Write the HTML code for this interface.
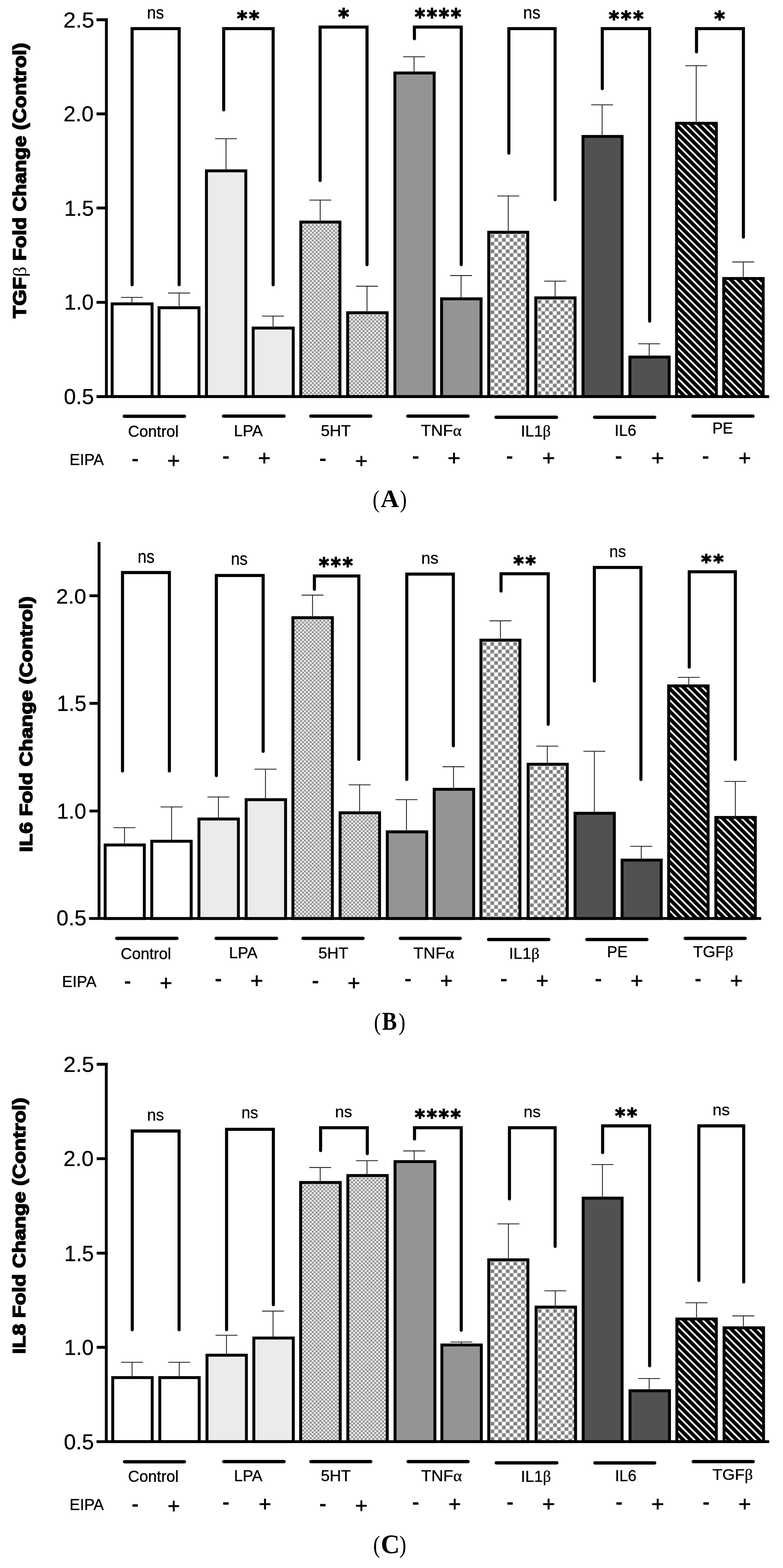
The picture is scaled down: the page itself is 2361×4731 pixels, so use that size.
<!DOCTYPE html>
<html><head><meta charset="utf-8"><title>Figure</title>
<style>html,body{margin:0;padding:0;background:#fff;} svg{display:block;}</style></head>
<body><svg width="2361" height="4731" viewBox="0 0 2361 4731">
<defs><pattern id='fine1' patternUnits='userSpaceOnUse' x='911.30' y='676.00' width='11.640' height='11.640'><rect width='11.640' height='11.640' fill='#c4c4c4'/><rect x='1.060' y='1.060' width='3.7' height='3.7' fill='#ffffff'/><rect x='6.880' y='6.880' width='3.7' height='3.7' fill='#ffffff'/><rect x='6.880' y='1.060' width='3.7' height='3.7' fill='#7a7a7a'/><rect x='1.060' y='6.880' width='3.7' height='3.7' fill='#7a7a7a'/></pattern><pattern id='fine2' patternUnits='userSpaceOnUse' x='1052.60' y='949.60' width='11.640' height='11.640'><rect width='11.640' height='11.640' fill='#c4c4c4'/><rect x='1.060' y='1.060' width='3.7' height='3.7' fill='#ffffff'/><rect x='6.880' y='6.880' width='3.7' height='3.7' fill='#ffffff'/><rect x='6.880' y='1.060' width='3.7' height='3.7' fill='#7a7a7a'/><rect x='1.060' y='6.880' width='3.7' height='3.7' fill='#7a7a7a'/></pattern><pattern id='coarse3' patternUnits='userSpaceOnUse' x='1479.10' y='706.55' width='23.000' height='23.000'><rect width='23.000' height='23.000' fill='#cccccc'/><rect x='0.900' y='0.900' width='9.7' height='9.7' fill='#7e7e7e'/><rect x='12.400' y='12.400' width='9.7' height='9.7' fill='#7e7e7e'/><rect x='12.400' y='0.900' width='9.7' height='9.7' fill='#ffffff'/><rect x='0.900' y='12.400' width='9.7' height='9.7' fill='#ffffff'/></pattern><pattern id='coarse4' patternUnits='userSpaceOnUse' x='1621.00' y='904.45' width='23.000' height='23.000'><rect width='23.000' height='23.000' fill='#cccccc'/><rect x='0.900' y='0.900' width='9.7' height='9.7' fill='#7e7e7e'/><rect x='12.400' y='12.400' width='9.7' height='9.7' fill='#7e7e7e'/><rect x='12.400' y='0.900' width='9.7' height='9.7' fill='#ffffff'/><rect x='0.900' y='12.400' width='9.7' height='9.7' fill='#ffffff'/></pattern><pattern id='hatch5' patternUnits='userSpaceOnUse' x='1175.813' y='0' width='16.05' height='16.05' patternTransform='rotate(-45)'><rect width='16.05' height='16.05' fill='#000'/><rect x='5.425' y='0' width='5.2' height='16.05' fill='#fff'/></pattern><pattern id='hatch6' patternUnits='userSpaceOnUse' x='945.296' y='0' width='16.05' height='16.05' patternTransform='rotate(-45)'><rect width='16.05' height='16.05' fill='#000'/><rect x='5.425' y='0' width='5.2' height='16.05' fill='#fff'/></pattern><pattern id='fine7' patternUnits='userSpaceOnUse' x='887.50' y='1869.70' width='11.640' height='11.640'><rect width='11.640' height='11.640' fill='#c4c4c4'/><rect x='1.060' y='1.060' width='3.7' height='3.7' fill='#ffffff'/><rect x='6.880' y='6.880' width='3.7' height='3.7' fill='#ffffff'/><rect x='6.880' y='1.060' width='3.7' height='3.7' fill='#7a7a7a'/><rect x='1.060' y='6.880' width='3.7' height='3.7' fill='#7a7a7a'/></pattern><pattern id='fine8' patternUnits='userSpaceOnUse' x='1029.80' y='2458.40' width='11.640' height='11.640'><rect width='11.640' height='11.640' fill='#c4c4c4'/><rect x='1.060' y='1.060' width='3.7' height='3.7' fill='#ffffff'/><rect x='6.880' y='6.880' width='3.7' height='3.7' fill='#ffffff'/><rect x='6.880' y='1.060' width='3.7' height='3.7' fill='#7a7a7a'/><rect x='1.060' y='6.880' width='3.7' height='3.7' fill='#7a7a7a'/></pattern><pattern id='coarse9' patternUnits='userSpaceOnUse' x='1455.60' y='1937.15' width='23.000' height='23.000'><rect width='23.000' height='23.000' fill='#cccccc'/><rect x='0.900' y='0.900' width='9.7' height='9.7' fill='#7e7e7e'/><rect x='12.400' y='12.400' width='9.7' height='9.7' fill='#7e7e7e'/><rect x='12.400' y='0.900' width='9.7' height='9.7' fill='#ffffff'/><rect x='0.900' y='12.400' width='9.7' height='9.7' fill='#ffffff'/></pattern><pattern id='coarse10' patternUnits='userSpaceOnUse' x='1597.90' y='2311.65' width='23.000' height='23.000'><rect width='23.000' height='23.000' fill='#cccccc'/><rect x='0.900' y='0.900' width='9.7' height='9.7' fill='#7e7e7e'/><rect x='12.400' y='12.400' width='9.7' height='9.7' fill='#7e7e7e'/><rect x='12.400' y='0.900' width='9.7' height='9.7' fill='#ffffff'/><rect x='0.900' y='12.400' width='9.7' height='9.7' fill='#ffffff'/></pattern><pattern id='hatch11' patternUnits='userSpaceOnUse' x='-41.330' y='0' width='16.05' height='16.05' patternTransform='rotate(-45)'><rect width='16.05' height='16.05' fill='#000'/><rect x='5.425' y='0' width='5.2' height='16.05' fill='#fff'/></pattern><pattern id='hatch12' patternUnits='userSpaceOnUse' x='-221.359' y='0' width='16.05' height='16.05' patternTransform='rotate(-45)'><rect width='16.05' height='16.05' fill='#000'/><rect x='5.425' y='0' width='5.2' height='16.05' fill='#fff'/></pattern><pattern id='fine13' patternUnits='userSpaceOnUse' x='910.80' y='3573.80' width='11.640' height='11.640'><rect width='11.640' height='11.640' fill='#c4c4c4'/><rect x='1.060' y='1.060' width='3.7' height='3.7' fill='#ffffff'/><rect x='6.880' y='6.880' width='3.7' height='3.7' fill='#ffffff'/><rect x='6.880' y='1.060' width='3.7' height='3.7' fill='#7a7a7a'/><rect x='1.060' y='6.880' width='3.7' height='3.7' fill='#7a7a7a'/></pattern><pattern id='fine14' patternUnits='userSpaceOnUse' x='1053.10' y='3552.80' width='11.640' height='11.640'><rect width='11.640' height='11.640' fill='#c4c4c4'/><rect x='1.060' y='1.060' width='3.7' height='3.7' fill='#ffffff'/><rect x='6.880' y='6.880' width='3.7' height='3.7' fill='#ffffff'/><rect x='6.880' y='1.060' width='3.7' height='3.7' fill='#7a7a7a'/><rect x='1.060' y='6.880' width='3.7' height='3.7' fill='#7a7a7a'/></pattern><pattern id='coarse15' patternUnits='userSpaceOnUse' x='1479.10' y='3806.85' width='23.000' height='23.000'><rect width='23.000' height='23.000' fill='#cccccc'/><rect x='0.900' y='0.900' width='9.7' height='9.7' fill='#7e7e7e'/><rect x='12.400' y='12.400' width='9.7' height='9.7' fill='#7e7e7e'/><rect x='12.400' y='0.900' width='9.7' height='9.7' fill='#ffffff'/><rect x='0.900' y='12.400' width='9.7' height='9.7' fill='#ffffff'/></pattern><pattern id='coarse16' patternUnits='userSpaceOnUse' x='1621.90' y='3949.55' width='23.000' height='23.000'><rect width='23.000' height='23.000' fill='#cccccc'/><rect x='0.900' y='0.900' width='9.7' height='9.7' fill='#7e7e7e'/><rect x='12.400' y='12.400' width='9.7' height='9.7' fill='#7e7e7e'/><rect x='12.400' y='0.900' width='9.7' height='9.7' fill='#ffffff'/><rect x='0.900' y='12.400' width='9.7' height='9.7' fill='#ffffff'/></pattern><pattern id='hatch17' patternUnits='userSpaceOnUse' x='-1374.509' y='0' width='16.05' height='16.05' patternTransform='rotate(-45)'><rect width='16.05' height='16.05' fill='#000'/><rect x='5.425' y='0' width='5.2' height='16.05' fill='#fff'/></pattern><pattern id='hatch18' patternUnits='userSpaceOnUse' x='-1292.697' y='0' width='16.05' height='16.05' patternTransform='rotate(-45)'><rect width='16.05' height='16.05' fill='#000'/><rect x='5.425' y='0' width='5.2' height='16.05' fill='#fff'/></pattern></defs>
<rect width="2361" height="4731" fill="#fff"/>
<g id='panelA'><rect x='338.2' y='916.8' width='120.3' height='279.8' fill='#ffffff' stroke='#000' stroke-width='8.8'/>
<rect x='479.6' y='928.5' width='120.4' height='268.1' fill='#ffffff' stroke='#000' stroke-width='8.8'/>
<rect x='622.5' y='515.5' width='118.7' height='681.1' fill='#ebebeb' stroke='#000' stroke-width='8.8'/>
<rect x='763.4' y='989.8' width='120.8' height='206.8' fill='#ebebeb' stroke='#000' stroke-width='8.8'/>
<rect x='907' y='670' width='118' height='526.6' fill='url(#fine1)' stroke='#000' stroke-width='8.8'/>
<rect x='1048.3' y='943.6' width='119' height='253' fill='url(#fine2)' stroke='#000' stroke-width='8.8'/>
<rect x='1190.7' y='220.2' width='118.5' height='976.4' fill='#949494' stroke='#000' stroke-width='8.8'/>
<rect x='1331.5' y='901.6' width='119' height='295' fill='#949494' stroke='#000' stroke-width='8.8'/>
<rect x='1473.7' y='700.8' width='117.6' height='495.8' fill='url(#coarse3)' stroke='#000' stroke-width='8.8'/>
<rect x='1615.6' y='898.7' width='118.4' height='297.9' fill='url(#coarse4)' stroke='#000' stroke-width='8.8'/>
<rect x='1757.9' y='411.7' width='118' height='784.9' fill='#515151' stroke='#000' stroke-width='8.8'/>
<rect x='1899.3' y='1077.3' width='118.5' height='119.3' fill='#515151' stroke='#000' stroke-width='8.8'/>
<rect x='2040' y='372' width='120' height='824.6' fill='url(#hatch5)' stroke='#000' stroke-width='8.8'/>
<rect x='2182.3' y='840.3' width='119' height='356.3' fill='url(#hatch6)' stroke='#000' stroke-width='8.8'/>
<path d='M397.75 916.8V897.2M364.75 897.2H430.75' stroke='#222' stroke-width='2.6' fill='none'/>
<path d='M540.1 928.5V884.1M507.1 884.1H573.1' stroke='#222' stroke-width='2.6' fill='none'/>
<path d='M681.5 515.5V418.5M648.5 418.5H714.5' stroke='#222' stroke-width='2.6' fill='none'/>
<path d='M823.3 989.8V953.7M790.3 953.7H856.3' stroke='#222' stroke-width='2.6' fill='none'/>
<path d='M965.5 670V603.7M932.5 603.7H998.5' stroke='#222' stroke-width='2.6' fill='none'/>
<path d='M1106.7 943.6V863.6M1073.7 863.6H1139.7' stroke='#222' stroke-width='2.6' fill='none'/>
<path d='M1248.5 220.2V171.2M1215.5 171.2H1281.5' stroke='#222' stroke-width='2.6' fill='none'/>
<path d='M1390.3 901.6V831.4M1357.3 831.4H1423.3' stroke='#222' stroke-width='2.6' fill='none'/>
<path d='M1532.5 700.8V591.3M1499.5 591.3H1565.5' stroke='#222' stroke-width='2.6' fill='none'/>
<path d='M1673.9 898.7V848.2M1640.9 848.2H1706.9' stroke='#222' stroke-width='2.6' fill='none'/>
<path d='M1815.7 411.7V316.3M1782.7 316.3H1848.7' stroke='#222' stroke-width='2.6' fill='none'/>
<path d='M1957.6 1077.3V1037.2M1924.6 1037.2H1990.6' stroke='#222' stroke-width='2.6' fill='none'/>
<path d='M2099.3 372V198.3M2066.3 198.3H2132.3' stroke='#222' stroke-width='2.6' fill='none'/>
<path d='M2241.1 840.3V790.4M2208.1 790.4H2274.1' stroke='#222' stroke-width='2.6' fill='none'/>
<path d='M320.8 55V1196.6' stroke='#000' stroke-width='8.6' fill='none'/>
<path d='M291 1196.6H2319.5' stroke='#000' stroke-width='8.6' fill='none'/>
<path d='M291 59.6H325.1' stroke='#000' stroke-width='8.6' fill='none'/>
<path d='M291 343.6H325.1' stroke='#000' stroke-width='8.6' fill='none'/>
<path d='M291 627.5H325.1' stroke='#000' stroke-width='8.6' fill='none'/>
<path d='M291 912.2H325.1' stroke='#000' stroke-width='8.6' fill='none'/>
<path d='M398.3 859.3V86.3H540.2V859.3' stroke='#000' stroke-width='9.3' fill='none' stroke-linecap='round' stroke-linejoin='miter'/>
<text transform='translate(443.3 55.68) scale(0.4833 0.5164)' font-family="'Liberation Sans', Arial, Helvetica, sans-serif" font-weight='normal' font-size='100' stroke='#000' stroke-width='1.0' stroke-linejoin='round'>ns</text>
<path d='M674.5 331.6V86.3H823.6V859.3' stroke='#000' stroke-width='9.3' fill='none' stroke-linecap='round' stroke-linejoin='miter'/>
<text transform='translate(714.4 76.85) scale(0.5929 0.6020)' font-family="'DejaVu Sans', sans-serif" font-weight='bold' font-size='100' stroke='#000' stroke-width='4' stroke-linejoin='round' letter-spacing='9'>**</text>
<path d='M965.2 544.8V81.7H1106.7V798.6' stroke='#000' stroke-width='9.3' fill='none' stroke-linecap='round' stroke-linejoin='miter'/>
<text transform='translate(1019.7 73.36) scale(0.6250 0.6600)' font-family="'DejaVu Sans', sans-serif" font-weight='bold' font-size='100' stroke='#000' stroke-width='4' stroke-linejoin='round' letter-spacing='9'>*</text>
<path d='M1249.6 117V81.7H1390.8V798.6' stroke='#000' stroke-width='9.3' fill='none' stroke-linecap='round' stroke-linejoin='miter'/>
<text transform='translate(1250.7 73.36) scale(0.5919 0.6600)' font-family="'DejaVu Sans', sans-serif" font-weight='bold' font-size='100' stroke='#000' stroke-width='4' stroke-linejoin='round' letter-spacing='9'>****</text>
<path d='M1534.4 462.2V86.3H1673.8V602.7' stroke='#000' stroke-width='9.3' fill='none' stroke-linecap='round' stroke-linejoin='miter'/>
<text transform='translate(1577.44 55.68) scale(0.4938 0.5164)' font-family="'Liberation Sans', Arial, Helvetica, sans-serif" font-weight='normal' font-size='100' stroke='#000' stroke-width='1.0' stroke-linejoin='round'>ns</text>
<path d='M1816.1 267.7V86.3H1958.8V969' stroke='#000' stroke-width='9.3' fill='none' stroke-linecap='round' stroke-linejoin='miter'/>
<text transform='translate(1835.6 77.53) scale(0.5989 0.6280)' font-family="'DejaVu Sans', sans-serif" font-weight='bold' font-size='100' stroke='#000' stroke-width='4' stroke-linejoin='round' letter-spacing='9'>***</text>
<path d='M2100.2 156.6V86.3H2241.6V715.6' stroke='#000' stroke-width='9.3' fill='none' stroke-linecap='round' stroke-linejoin='miter'/>
<text transform='translate(2153.7 77.53) scale(0.6154 0.6280)' font-family="'DejaVu Sans', sans-serif" font-weight='bold' font-size='100' stroke='#000' stroke-width='4' stroke-linejoin='round' letter-spacing='9'>*</text>
<path d='M374.7 1255.9H556.1' stroke='#000' stroke-width='10.0' stroke-linecap='round' fill='none'/>
<path d='M674 1255.6H856.4' stroke='#000' stroke-width='10.0' stroke-linecap='round' fill='none'/>
<path d='M937.1 1255.6H1117.9' stroke='#000' stroke-width='10.0' stroke-linecap='round' fill='none'/>
<path d='M1229.8 1255.6H1411.2' stroke='#000' stroke-width='10.0' stroke-linecap='round' fill='none'/>
<path d='M1495.8 1259H1677.9' stroke='#000' stroke-width='10.0' stroke-linecap='round' fill='none'/>
<path d='M1792.9 1259H1974' stroke='#000' stroke-width='10.0' stroke-linecap='round' fill='none'/>
<path d='M2089.7 1255.6H2270.4' stroke='#000' stroke-width='10.0' stroke-linecap='round' fill='none'/>
<text transform='translate(190.94 82.56) scale(0.6715 0.6437)' font-family="'Liberation Sans', Arial, Helvetica, sans-serif" font-weight='normal' font-size='100' stroke='#000' stroke-width='0.8' stroke-linejoin='round'>2.5</text>
<text transform='translate(191.43 365.85) scale(0.6542 0.6521)' font-family="'Liberation Sans', Arial, Helvetica, sans-serif" font-weight='normal' font-size='100' stroke='#000' stroke-width='0.8' stroke-linejoin='round'>2.0</text>
<text transform='translate(193.7 650.55) scale(0.6422 0.6514)' font-family="'Liberation Sans', Arial, Helvetica, sans-serif" font-weight='normal' font-size='100' stroke='#000' stroke-width='0.8' stroke-linejoin='round'>1.5</text>
<text transform='translate(193.74 933.56) scale(0.6372 0.6423)' font-family="'Liberation Sans', Arial, Helvetica, sans-serif" font-weight='normal' font-size='100' stroke='#000' stroke-width='0.8' stroke-linejoin='round'>1.0</text>
<text transform='translate(192.54 1218.85) scale(0.6523 0.6521)' font-family="'Liberation Sans', Arial, Helvetica, sans-serif" font-weight='normal' font-size='100' stroke='#000' stroke-width='0.8' stroke-linejoin='round'>0.5</text>
<text transform='translate(386.01 1317.52) scale(0.4731 0.4845)' font-family="'Liberation Sans', Arial, Helvetica, sans-serif" font-weight='normal' font-size='100' stroke='#000' stroke-width='1.4' stroke-linejoin='round'>Control</text>
<text transform='translate(705.16 1315.62) scale(0.4799 0.4845)' font-family="'Liberation Sans', Arial, Helvetica, sans-serif" font-weight='normal' font-size='100' stroke='#000' stroke-width='1.4' stroke-linejoin='round'>LPA</text>
<text transform='translate(967.57 1315.62) scale(0.4772 0.4831)' font-family="'Liberation Sans', Arial, Helvetica, sans-serif" font-weight='normal' font-size='100' stroke='#000' stroke-width='1.4' stroke-linejoin='round'>5HT</text>
<text transform='translate(1269.31 1315.42) scale(0.4967 0.4845)' font-family="'Liberation Sans', Arial, Helvetica, sans-serif" font-weight='normal' font-size='100' stroke='#000' stroke-width='1.4' stroke-linejoin='round'>TNF<tspan font-family="'Liberation Serif', 'Times New Roman', serif">α</tspan></text>
<text transform='translate(1570.52 1317.42) scale(0.4751 0.4789)' font-family="'Liberation Sans', Arial, Helvetica, sans-serif" font-weight='normal' font-size='100' stroke='#000' stroke-width='1.4' stroke-linejoin='round'>IL1<tspan font-family="'Liberation Serif', 'Times New Roman', serif">β</tspan></text>
<text transform='translate(1853.28 1315.42) scale(0.4690 0.4761)' font-family="'Liberation Sans', Arial, Helvetica, sans-serif" font-weight='normal' font-size='100' stroke='#000' stroke-width='1.4' stroke-linejoin='round'>IL6</text>
<text transform='translate(2147.97 1307.72) scale(0.4664 0.4817)' font-family="'Liberation Sans', Arial, Helvetica, sans-serif" font-weight='normal' font-size='100' stroke='#000' stroke-width='1.4' stroke-linejoin='round'>PE</text>
<text transform='translate(209.65 1403.42) scale(0.4690 0.4817)' font-family="'Liberation Sans', Arial, Helvetica, sans-serif" font-weight='normal' font-size='100' stroke='#000' stroke-width='1.4' stroke-linejoin='round'>EIPA</text>
<text transform='translate(396.46 1412.78) scale(0.6600 0.9250)' font-family="'Liberation Sans', Arial, Helvetica, sans-serif" font-weight='normal' font-size='100'>-</text>
<text transform='translate(670.1 1405.43) scale(0.6760 0.9250)' font-family="'Liberation Sans', Arial, Helvetica, sans-serif" font-weight='normal' font-size='100'>-</text>
<text transform='translate(962.3 1411.93) scale(0.6760 0.9250)' font-family="'Liberation Sans', Arial, Helvetica, sans-serif" font-weight='normal' font-size='100'>-</text>
<text transform='translate(1242.3 1405.43) scale(0.6760 0.9250)' font-family="'Liberation Sans', Arial, Helvetica, sans-serif" font-weight='normal' font-size='100'>-</text>
<text transform='translate(1525.91 1405.43) scale(0.6480 0.9250)' font-family="'Liberation Sans', Arial, Helvetica, sans-serif" font-weight='normal' font-size='100'>-</text>
<text transform='translate(1854.1 1405.43) scale(0.6760 0.9250)' font-family="'Liberation Sans', Arial, Helvetica, sans-serif" font-weight='normal' font-size='100'>-</text>
<text transform='translate(2116.6 1405.43) scale(0.6760 0.9250)' font-family="'Liberation Sans', Arial, Helvetica, sans-serif" font-weight='normal' font-size='100'>-</text>
<text transform='translate(504.38 1412.24) scale(0.6540 0.6549)' font-family="'Liberation Sans', Arial, Helvetica, sans-serif" font-weight='normal' font-size='100' stroke='#000' stroke-width='1.6' stroke-linejoin='round'>+</text>
<text transform='translate(778.08 1404.14) scale(0.6540 0.6549)' font-family="'Liberation Sans', Arial, Helvetica, sans-serif" font-weight='normal' font-size='100' stroke='#000' stroke-width='1.6' stroke-linejoin='round'>+</text>
<text transform='translate(1070.71 1410.86) scale(0.6480 0.6196)' font-family="'Liberation Sans', Arial, Helvetica, sans-serif" font-weight='normal' font-size='100' stroke='#000' stroke-width='1.6' stroke-linejoin='round'>+</text>
<text transform='translate(1349.53 1404.14) scale(0.6680 0.6549)' font-family="'Liberation Sans', Arial, Helvetica, sans-serif" font-weight='normal' font-size='100' stroke='#000' stroke-width='1.6' stroke-linejoin='round'>+</text>
<text transform='translate(1634.83 1404.14) scale(0.6680 0.6549)' font-family="'Liberation Sans', Arial, Helvetica, sans-serif" font-weight='normal' font-size='100' stroke='#000' stroke-width='1.6' stroke-linejoin='round'>+</text>
<text transform='translate(1963.83 1404.14) scale(0.6680 0.6549)' font-family="'Liberation Sans', Arial, Helvetica, sans-serif" font-weight='normal' font-size='100' stroke='#000' stroke-width='1.6' stroke-linejoin='round'>+</text>
<text transform='translate(2226.38 1404.14) scale(0.6540 0.6549)' font-family="'Liberation Sans', Arial, Helvetica, sans-serif" font-weight='normal' font-size='100' stroke='#000' stroke-width='1.6' stroke-linejoin='round'>+</text>
<text transform='translate(78.23 960.28) rotate(-90) scale(0.6230 0.5551)' font-family="'Liberation Sans', Arial, Helvetica, sans-serif" font-weight='bold' font-size='100' stroke='#000' stroke-width='5' stroke-linejoin='round'>TGF<tspan font-family="'Liberation Serif', 'Times New Roman', serif" font-weight='normal' stroke='none'>β</tspan> Fold Change (Control)</text>
<text transform='translate(1123.49 1531.27) scale(0.6269 0.7489)' font-family="'Liberation Serif', 'Times New Roman', serif" font-weight='normal' font-size='100'>(</text>
<text transform='translate(1147.83 1530) scale(0.7671 0.7636)' font-family="'Liberation Serif', 'Times New Roman', serif" font-weight='bold' font-size='100'>A</text>
<text transform='translate(1205.71 1531.27) scale(0.6308 0.7489)' font-family="'Liberation Serif', 'Times New Roman', serif" font-weight='normal' font-size='100'>)</text></g>
<g id='panelB'><rect x='317.1' y='2549.5' width='118.1' height='221.8' fill='#ffffff' stroke='#000' stroke-width='8.8'/>
<rect x='457.6' y='2538.2' width='118.9' height='233.1' fill='#ffffff' stroke='#000' stroke-width='8.8'/>
<rect x='599.9' y='2471.1' width='118.9' height='300.2' fill='#ebebeb' stroke='#000' stroke-width='8.8'/>
<rect x='742.2' y='2412.8' width='118.9' height='358.5' fill='#ebebeb' stroke='#000' stroke-width='8.8'/>
<rect x='883.2' y='1863.7' width='119' height='907.6' fill='url(#fine7)' stroke='#000' stroke-width='8.8'/>
<rect x='1025.5' y='2452.4' width='119' height='318.9' fill='url(#fine8)' stroke='#000' stroke-width='8.8'/>
<rect x='1167.8' y='2509.8' width='119' height='261.5' fill='#949494' stroke='#000' stroke-width='8.8'/>
<rect x='1309.2' y='2381.5' width='119' height='389.8' fill='#949494' stroke='#000' stroke-width='8.8'/>
<rect x='1450.2' y='1931.4' width='117.6' height='839.9' fill='url(#coarse9)' stroke='#000' stroke-width='8.8'/>
<rect x='1592.5' y='2305.9' width='118' height='465.4' fill='url(#coarse10)' stroke='#000' stroke-width='8.8'/>
<rect x='1733.9' y='2453.8' width='118.5' height='317.5' fill='#515151' stroke='#000' stroke-width='8.8'/>
<rect x='1875.8' y='2595.1' width='118' height='176.2' fill='#515151' stroke='#000' stroke-width='8.8'/>
<rect x='2016.2' y='2069.5' width='119' height='701.8' fill='url(#hatch11)' stroke='#000' stroke-width='8.8'/>
<rect x='2158.5' y='2466.4' width='119' height='304.9' fill='url(#hatch12)' stroke='#000' stroke-width='8.8'/>
<path d='M375.5 2549.5V2497.2M342.5 2497.2H408.5' stroke='#222' stroke-width='2.6' fill='none'/>
<path d='M517.3 2538.2V2434.7M484.3 2434.7H550.3' stroke='#222' stroke-width='2.6' fill='none'/>
<path d='M658.6 2471.1V2404.8M625.6 2404.8H691.6' stroke='#222' stroke-width='2.6' fill='none'/>
<path d='M800.5 2412.8V2320.8M767.5 2320.8H833.5' stroke='#222' stroke-width='2.6' fill='none'/>
<path d='M942.4 1863.7V1795.6M909.4 1795.6H975.4' stroke='#222' stroke-width='2.6' fill='none'/>
<path d='M1084.3 2452.4V2368M1051.3 2368H1117.3' stroke='#222' stroke-width='2.6' fill='none'/>
<path d='M1225.6 2509.8V2412.8M1192.6 2412.8H1258.6' stroke='#222' stroke-width='2.6' fill='none'/>
<path d='M1367.5 2381.5V2313.4M1334.5 2313.4H1400.5' stroke='#222' stroke-width='2.6' fill='none'/>
<path d='M1509 1931.4V1873.1M1476 1873.1H1542' stroke='#222' stroke-width='2.6' fill='none'/>
<path d='M1650.3 2305.9V2251.3M1617.3 2251.3H1683.3' stroke='#222' stroke-width='2.6' fill='none'/>
<path d='M1792.2 2453.8V2266.7M1759.2 2266.7H1825.2' stroke='#222' stroke-width='2.6' fill='none'/>
<path d='M1933.6 2595.1V2553.5M1900.6 2553.5H1966.6' stroke='#222' stroke-width='2.6' fill='none'/>
<path d='M2076.9 2069.5V2043.8M2043.9 2043.8H2109.9' stroke='#222' stroke-width='2.6' fill='none'/>
<path d='M2217.3 2466.4V2357.7M2184.3 2357.7H2250.3' stroke='#222' stroke-width='2.6' fill='none'/>
<path d='M298.7 1635.6V2771.3' stroke='#000' stroke-width='8.6' fill='none'/>
<path d='M268.5 2771.3H2295.2' stroke='#000' stroke-width='8.6' fill='none'/>
<path d='M269.7 1797.5H303' stroke='#000' stroke-width='8.6' fill='none'/>
<path d='M269.7 2122.1H303' stroke='#000' stroke-width='8.6' fill='none'/>
<path d='M269.7 2447H303' stroke='#000' stroke-width='8.6' fill='none'/>
<path d='M369.4 2326.3V1727.5H510.7V2326.3' stroke='#000' stroke-width='9.3' fill='none' stroke-linecap='round' stroke-linejoin='miter'/>
<text transform='translate(414.9 1697.65) scale(0.4833 0.5473)' font-family="'Liberation Sans', Arial, Helvetica, sans-serif" font-weight='normal' font-size='100' stroke='#000' stroke-width='1.0' stroke-linejoin='round'>ns</text>
<path d='M652.4 2340.3V1736.4H793.5V2267' stroke='#000' stroke-width='9.3' fill='none' stroke-linecap='round' stroke-linejoin='miter'/>
<text transform='translate(696.22 1704.28) scale(0.4792 0.5218)' font-family="'Liberation Sans', Arial, Helvetica, sans-serif" font-weight='normal' font-size='100' stroke='#000' stroke-width='1.0' stroke-linejoin='round'>ns</text>
<path d='M948 1778.2V1737.8H1082V2291.3' stroke='#000' stroke-width='9.3' fill='none' stroke-linecap='round' stroke-linejoin='miter'/>
<text transform='translate(961.4 1729.05) scale(0.5857 0.6480)' font-family="'DejaVu Sans', sans-serif" font-weight='bold' font-size='100' stroke='#000' stroke-width='4' stroke-linejoin='round' letter-spacing='9'>***</text>
<path d='M1226.6 2352V1732.2H1367V2250.3' stroke='#000' stroke-width='9.3' fill='none' stroke-linecap='round' stroke-linejoin='miter'/>
<text transform='translate(1270.14 1701) scale(0.4938 0.5036)' font-family="'Liberation Sans', Arial, Helvetica, sans-serif" font-weight='normal' font-size='100' stroke='#000' stroke-width='1.0' stroke-linejoin='round'>ns</text>
<path d='M1510.8 1783.4V1731.2H1653.1V2185.5' stroke='#000' stroke-width='9.3' fill='none' stroke-linecap='round' stroke-linejoin='miter'/>
<text transform='translate(1548 1722.37) scale(0.5973 0.6220)' font-family="'DejaVu Sans', sans-serif" font-weight='bold' font-size='100' stroke='#000' stroke-width='4' stroke-linejoin='round' letter-spacing='9'>**</text>
<path d='M1792.2 2054.9V1712.1H1932.6V2352' stroke='#000' stroke-width='9.3' fill='none' stroke-linecap='round' stroke-linejoin='miter'/>
<text transform='translate(1837.22 1681) scale(0.4792 0.4982)' font-family="'Liberation Sans', Arial, Helvetica, sans-serif" font-weight='normal' font-size='100' stroke='#000' stroke-width='1.0' stroke-linejoin='round'>ns</text>
<path d='M2078.3 2012.9V1725.2H2217.3V2291.3' stroke='#000' stroke-width='9.3' fill='none' stroke-linecap='round' stroke-linejoin='miter'/>
<text transform='translate(2114.1 1715.49) scale(0.5965 0.5920)' font-family="'DejaVu Sans', sans-serif" font-weight='bold' font-size='100' stroke='#000' stroke-width='4' stroke-linejoin='round' letter-spacing='9'>**</text>
<path d='M352 2831.3H533.4' stroke='#000' stroke-width='10.0' stroke-linecap='round' fill='none'/>
<path d='M651.5 2831.3H833.9' stroke='#000' stroke-width='10.0' stroke-linecap='round' fill='none'/>
<path d='M913.9 2831.3H1094.7' stroke='#000' stroke-width='10.0' stroke-linecap='round' fill='none'/>
<path d='M1207.3 2831.3H1387.6' stroke='#000' stroke-width='10.0' stroke-linecap='round' fill='none'/>
<path d='M1473.3 2834.8H1654.7' stroke='#000' stroke-width='10.0' stroke-linecap='round' fill='none'/>
<path d='M1769.7 2834.8H1950.5' stroke='#000' stroke-width='10.0' stroke-linecap='round' fill='none'/>
<path d='M2066.2 2831.3H2246.9' stroke='#000' stroke-width='10.0' stroke-linecap='round' fill='none'/>
<text transform='translate(169.34 1820.86) scale(0.6527 0.6352)' font-family="'Liberation Sans', Arial, Helvetica, sans-serif" font-weight='normal' font-size='100' stroke='#000' stroke-width='0.8' stroke-linejoin='round'>2.0</text>
<text transform='translate(171.3 2144.54) scale(0.6430 0.6600)' font-family="'Liberation Sans', Arial, Helvetica, sans-serif" font-weight='normal' font-size='100' stroke='#000' stroke-width='0.8' stroke-linejoin='round'>1.5</text>
<text transform='translate(171.33 2469.85) scale(0.6388 0.6521)' font-family="'Liberation Sans', Arial, Helvetica, sans-serif" font-weight='normal' font-size='100' stroke='#000' stroke-width='0.8' stroke-linejoin='round'>1.0</text>
<text transform='translate(170.35 2792.36) scale(0.6508 0.6423)' font-family="'Liberation Sans', Arial, Helvetica, sans-serif" font-weight='normal' font-size='100' stroke='#000' stroke-width='0.8' stroke-linejoin='round'>0.5</text>
<text transform='translate(363.91 2893.52) scale(0.4715 0.4775)' font-family="'Liberation Sans', Arial, Helvetica, sans-serif" font-weight='normal' font-size='100' stroke='#000' stroke-width='1.4' stroke-linejoin='round'>Control</text>
<text transform='translate(690.62 2891.33) scale(0.4730 0.4746)' font-family="'Liberation Sans', Arial, Helvetica, sans-serif" font-weight='normal' font-size='100' stroke='#000' stroke-width='1.4' stroke-linejoin='round'>LPA</text>
<text transform='translate(960.07 2891.62) scale(0.4772 0.4775)' font-family="'Liberation Sans', Arial, Helvetica, sans-serif" font-weight='normal' font-size='100' stroke='#000' stroke-width='1.4' stroke-linejoin='round'>5HT</text>
<text transform='translate(1246.3 2891.62) scale(0.4996 0.4803)' font-family="'Liberation Sans', Arial, Helvetica, sans-serif" font-weight='normal' font-size='100' stroke='#000' stroke-width='1.4' stroke-linejoin='round'>TNF<tspan font-family="'Liberation Serif', 'Times New Roman', serif">α</tspan></text>
<text transform='translate(1534.64 2893.33) scale(0.4842 0.4746)' font-family="'Liberation Sans', Arial, Helvetica, sans-serif" font-weight='normal' font-size='100' stroke='#000' stroke-width='1.4' stroke-linejoin='round'>IL1<tspan font-family="'Liberation Serif', 'Times New Roman', serif">β</tspan></text>
<text transform='translate(1830.17 2887.52) scale(0.4664 0.4761)' font-family="'Liberation Sans', Arial, Helvetica, sans-serif" font-weight='normal' font-size='100' stroke='#000' stroke-width='1.4' stroke-linejoin='round'>PE</text>
<text transform='translate(2089.63 2888.22) scale(0.4845 0.4831)' font-family="'Liberation Sans', Arial, Helvetica, sans-serif" font-weight='normal' font-size='100' stroke='#000' stroke-width='1.4' stroke-linejoin='round'>TGF<tspan font-family="'Liberation Serif', 'Times New Roman', serif">β</tspan></text>
<text transform='translate(187.03 2977.53) scale(0.4714 0.4746)' font-family="'Liberation Sans', Arial, Helvetica, sans-serif" font-weight='normal' font-size='100' stroke='#000' stroke-width='1.4' stroke-linejoin='round'>EIPA</text>
<text transform='translate(374.11 2989.22) scale(0.6480 0.9250)' font-family="'Liberation Sans', Arial, Helvetica, sans-serif" font-weight='normal' font-size='100'>-</text>
<text transform='translate(646.9 2981.92) scale(0.6760 0.9250)' font-family="'Liberation Sans', Arial, Helvetica, sans-serif" font-weight='normal' font-size='100'>-</text>
<text transform='translate(939.8 2987.87) scale(0.6760 0.9250)' font-family="'Liberation Sans', Arial, Helvetica, sans-serif" font-weight='normal' font-size='100'>-</text>
<text transform='translate(1219.1 2981.92) scale(0.6760 0.9250)' font-family="'Liberation Sans', Arial, Helvetica, sans-serif" font-weight='normal' font-size='100'>-</text>
<text transform='translate(1507.9 2981.92) scale(0.6760 0.9250)' font-family="'Liberation Sans', Arial, Helvetica, sans-serif" font-weight='normal' font-size='100'>-</text>
<text transform='translate(1793.1 2981.92) scale(0.6760 0.9250)' font-family="'Liberation Sans', Arial, Helvetica, sans-serif" font-weight='normal' font-size='100'>-</text>
<text transform='translate(2094.26 2981.92) scale(0.6360 0.9250)' font-family="'Liberation Sans', Arial, Helvetica, sans-serif" font-weight='normal' font-size='100'>-</text>
<text transform='translate(481.72 2987.83) scale(0.6460 0.6412)' font-family="'Liberation Sans', Arial, Helvetica, sans-serif" font-weight='normal' font-size='100' stroke='#000' stroke-width='1.6' stroke-linejoin='round'>+</text>
<text transform='translate(754.83 2980.94) scale(0.6680 0.6549)' font-family="'Liberation Sans', Arial, Helvetica, sans-serif" font-weight='normal' font-size='100' stroke='#000' stroke-width='1.6' stroke-linejoin='round'>+</text>
<text transform='translate(1047.88 2987.83) scale(0.6540 0.6412)' font-family="'Liberation Sans', Arial, Helvetica, sans-serif" font-weight='normal' font-size='100' stroke='#000' stroke-width='1.6' stroke-linejoin='round'>+</text>
<text transform='translate(1327.08 2980.94) scale(0.6540 0.6549)' font-family="'Liberation Sans', Arial, Helvetica, sans-serif" font-weight='normal' font-size='100' stroke='#000' stroke-width='1.6' stroke-linejoin='round'>+</text>
<text transform='translate(1615.88 2980.94) scale(0.6540 0.6549)' font-family="'Liberation Sans', Arial, Helvetica, sans-serif" font-weight='normal' font-size='100' stroke='#000' stroke-width='1.6' stroke-linejoin='round'>+</text>
<text transform='translate(1901.18 2980.94) scale(0.6540 0.6549)' font-family="'Liberation Sans', Arial, Helvetica, sans-serif" font-weight='normal' font-size='100' stroke='#000' stroke-width='1.6' stroke-linejoin='round'>+</text>
<text transform='translate(2201.35 2980.94) scale(0.6620 0.6549)' font-family="'Liberation Sans', Arial, Helvetica, sans-serif" font-weight='normal' font-size='100' stroke='#000' stroke-width='1.6' stroke-linejoin='round'>+</text>
<text transform='translate(96.79 2571.01) rotate(-90) scale(0.6287 0.5439)' font-family="'Liberation Sans', Arial, Helvetica, sans-serif" font-weight='bold' font-size='100' stroke='#000' stroke-width='5' stroke-linejoin='round'>IL6 Fold Change (Control)</text>
<text transform='translate(1127.38 3108.32) scale(0.6308 0.7467)' font-family="'Liberation Serif', 'Times New Roman', serif" font-weight='normal' font-size='100'>(</text>
<text transform='translate(1151.96 3107) scale(0.6694 0.7723)' font-family="'Liberation Serif', 'Times New Roman', serif" font-weight='bold' font-size='100'>B</text>
<text transform='translate(1201.51 3108.32) scale(0.6308 0.7467)' font-family="'Liberation Serif', 'Times New Roman', serif" font-weight='normal' font-size='100'>)</text></g>
<g id='panelC'><rect x='339.9' y='4156.5' width='119' height='193.2' fill='#ffffff' stroke='#000' stroke-width='8.8'/>
<rect x='481.8' y='4156.5' width='118.9' height='193.2' fill='#ffffff' stroke='#000' stroke-width='8.8'/>
<rect x='624.1' y='4088.9' width='118.9' height='260.8' fill='#ebebeb' stroke='#000' stroke-width='8.8'/>
<rect x='765.4' y='4037.1' width='119' height='312.6' fill='#ebebeb' stroke='#000' stroke-width='8.8'/>
<rect x='906.5' y='3567.8' width='119.4' height='781.9' fill='url(#fine13)' stroke='#000' stroke-width='8.8'/>
<rect x='1048.8' y='3546.8' width='118.9' height='802.9' fill='url(#fine14)' stroke='#000' stroke-width='8.8'/>
<rect x='1191.1' y='3504.8' width='120.3' height='844.9' fill='#949494' stroke='#000' stroke-width='8.8'/>
<rect x='1332.4' y='4058.1' width='119' height='291.6' fill='#949494' stroke='#000' stroke-width='8.8'/>
<rect x='1473.7' y='3801.1' width='118.1' height='548.6' fill='url(#coarse15)' stroke='#000' stroke-width='8.8'/>
<rect x='1616.5' y='3943.8' width='119' height='405.9' fill='url(#coarse16)' stroke='#000' stroke-width='8.8'/>
<rect x='1758.4' y='3615' width='117.5' height='734.7' fill='#515151' stroke='#000' stroke-width='8.8'/>
<rect x='1899.7' y='4196.2' width='119' height='153.5' fill='#515151' stroke='#000' stroke-width='8.8'/>
<rect x='2041' y='3979.7' width='118.9' height='370' fill='url(#hatch17)' stroke='#000' stroke-width='8.8'/>
<rect x='2183.3' y='4006.3' width='119' height='343.4' fill='url(#hatch18)' stroke='#000' stroke-width='8.8'/>
<path d='M398.2 4156.5V4110.3M365.2 4110.3H431.2' stroke='#222' stroke-width='2.6' fill='none'/>
<path d='M540.5 4156.5V4110.3M507.5 4110.3H573.5' stroke='#222' stroke-width='2.6' fill='none'/>
<path d='M682.9 4088.9V4028.7M649.9 4028.7H715.9' stroke='#222' stroke-width='2.6' fill='none'/>
<path d='M823.3 4037.1V3955.9M790.3 3955.9H856.3' stroke='#222' stroke-width='2.6' fill='none'/>
<path d='M965.5 3567.8V3522.6M932.5 3522.6H998.5' stroke='#222' stroke-width='2.6' fill='none'/>
<path d='M1106.6 3546.8V3502M1073.6 3502H1139.6' stroke='#222' stroke-width='2.6' fill='none'/>
<path d='M1248.9 3504.8V3472.6M1215.9 3472.6H1281.9' stroke='#222' stroke-width='2.6' fill='none'/>
<path d='M1391.2 4058.1V4049.2M1358.2 4049.2H1424.2' stroke='#222' stroke-width='2.6' fill='none'/>
<path d='M1533 3801.1V3692.8M1500 3692.8H1566' stroke='#222' stroke-width='2.6' fill='none'/>
<path d='M1674.3 3943.8V3894.8M1641.3 3894.8H1707.3' stroke='#222' stroke-width='2.6' fill='none'/>
<path d='M1816.6 3615V3513.7M1783.6 3513.7H1849.6' stroke='#222' stroke-width='2.6' fill='none'/>
<path d='M1957.5 4196.2V4159.3M1924.5 4159.3H1990.5' stroke='#222' stroke-width='2.6' fill='none'/>
<path d='M2100.2 3979.7V3930.7M2067.2 3930.7H2133.2' stroke='#222' stroke-width='2.6' fill='none'/>
<path d='M2241.6 4006.3V3970.4M2208.6 3970.4H2274.6' stroke='#222' stroke-width='2.6' fill='none'/>
<path d='M320.5 3206.9V4349.7' stroke='#000' stroke-width='8.6' fill='none'/>
<path d='M291 4349.7H2319.5' stroke='#000' stroke-width='8.6' fill='none'/>
<path d='M291.6 3211.1H324.8' stroke='#000' stroke-width='8.6' fill='none'/>
<path d='M291.6 3496H324.8' stroke='#000' stroke-width='8.6' fill='none'/>
<path d='M291.6 3781H324.8' stroke='#000' stroke-width='8.6' fill='none'/>
<path d='M291.6 4065.1H324.8' stroke='#000' stroke-width='8.6' fill='none'/>
<path d='M398.8 4012.2V3412.5H540V4012.2' stroke='#000' stroke-width='9.3' fill='none' stroke-linecap='round' stroke-linejoin='miter'/>
<text transform='translate(443.4 3380.51) scale(0.4833 0.4945)' font-family="'Liberation Sans', Arial, Helvetica, sans-serif" font-weight='normal' font-size='100' stroke='#000' stroke-width='1.0' stroke-linejoin='round'>ns</text>
<path d='M683.2 4012.2V3407.3H824.3V3936.6' stroke='#000' stroke-width='9.3' fill='none' stroke-linecap='round' stroke-linejoin='miter'/>
<text transform='translate(727.92 3374.3) scale(0.4792 0.4964)' font-family="'Liberation Sans', Arial, Helvetica, sans-serif" font-weight='normal' font-size='100' stroke='#000' stroke-width='1.0' stroke-linejoin='round'>ns</text>
<path d='M966.7 3471.6V3402.7H1107.5V3480.9' stroke='#000' stroke-width='9.3' fill='none' stroke-linecap='round' stroke-linejoin='miter'/>
<text transform='translate(1010.27 3371.02) scale(0.4885 0.4800)' font-family="'Liberation Sans', Arial, Helvetica, sans-serif" font-weight='normal' font-size='100' stroke='#000' stroke-width='1.0' stroke-linejoin='round'>ns</text>
<path d='M1249.9 3436.6V3402.7H1390.8V4013.6' stroke='#000' stroke-width='9.3' fill='none' stroke-linecap='round' stroke-linejoin='miter'/>
<text transform='translate(1250.7 3392.37) scale(0.5881 0.6220)' font-family="'DejaVu Sans', sans-serif" font-weight='bold' font-size='100' stroke='#000' stroke-width='4' stroke-linejoin='round' letter-spacing='9'>****</text>
<path d='M1536.2 3617.6V3402.7H1673.9V3760.8' stroke='#000' stroke-width='9.3' fill='none' stroke-linecap='round' stroke-linejoin='miter'/>
<text transform='translate(1578.87 3371.02) scale(0.4885 0.4800)' font-family="'Liberation Sans', Arial, Helvetica, sans-serif" font-weight='normal' font-size='100' stroke='#000' stroke-width='1.0' stroke-linejoin='round'>ns</text>
<path d='M1817.1 3477.6V3397H1958.8V4121' stroke='#000' stroke-width='9.3' fill='none' stroke-linecap='round' stroke-linejoin='miter'/>
<text transform='translate(1854.8 3387.62) scale(0.5841 0.6200)' font-family="'DejaVu Sans', sans-serif" font-weight='bold' font-size='100' stroke='#000' stroke-width='4' stroke-linejoin='round' letter-spacing='9'>**</text>
<path d='M2107.2 3863.5V3397H2242.5V3868.1' stroke='#000' stroke-width='9.3' fill='none' stroke-linecap='round' stroke-linejoin='miter'/>
<text transform='translate(2148.44 3365.02) scale(0.4937 0.4800)' font-family="'Liberation Sans', Arial, Helvetica, sans-serif" font-weight='normal' font-size='100' stroke='#000' stroke-width='1.0' stroke-linejoin='round'>ns</text>
<path d='M375.4 4410.4H556.1' stroke='#000' stroke-width='10.0' stroke-linecap='round' fill='none'/>
<path d='M675 4410H856.4' stroke='#000' stroke-width='10.0' stroke-linecap='round' fill='none'/>
<path d='M937.5 4410H1117.9' stroke='#000' stroke-width='10.0' stroke-linecap='round' fill='none'/>
<path d='M1230.5 4410H1411.2' stroke='#000' stroke-width='10.0' stroke-linecap='round' fill='none'/>
<path d='M1496.5 4413.8H1679' stroke='#000' stroke-width='10.0' stroke-linecap='round' fill='none'/>
<path d='M1793.9 4414H1974' stroke='#000' stroke-width='10.0' stroke-linecap='round' fill='none'/>
<path d='M2090.4 4410H2271.1' stroke='#000' stroke-width='10.0' stroke-linecap='round' fill='none'/>
<text transform='translate(191.17 3233.65) scale(0.6669 0.6507)' font-family="'Liberation Sans', Arial, Helvetica, sans-serif" font-weight='normal' font-size='100' stroke='#000' stroke-width='0.8' stroke-linejoin='round'>2.5</text>
<text transform='translate(191.21 3518.45) scale(0.6573 0.6507)' font-family="'Liberation Sans', Arial, Helvetica, sans-serif" font-weight='normal' font-size='100' stroke='#000' stroke-width='0.8' stroke-linejoin='round'>2.0</text>
<text transform='translate(193.69 3804.54) scale(0.6437 0.6614)' font-family="'Liberation Sans', Arial, Helvetica, sans-serif" font-weight='normal' font-size='100' stroke='#000' stroke-width='0.8' stroke-linejoin='round'>1.5</text>
<text transform='translate(193.73 4087.55) scale(0.6388 0.6507)' font-family="'Liberation Sans', Arial, Helvetica, sans-serif" font-weight='normal' font-size='100' stroke='#000' stroke-width='0.8' stroke-linejoin='round'>1.0</text>
<text transform='translate(192.54 4372.65) scale(0.6523 0.6521)' font-family="'Liberation Sans', Arial, Helvetica, sans-serif" font-weight='normal' font-size='100' stroke='#000' stroke-width='0.8' stroke-linejoin='round'>0.5</text>
<text transform='translate(386.01 4470.92) scale(0.4731 0.4803)' font-family="'Liberation Sans', Arial, Helvetica, sans-serif" font-weight='normal' font-size='100' stroke='#000' stroke-width='1.4' stroke-linejoin='round'>Control</text>
<text transform='translate(705.41 4468.52) scale(0.4741 0.4761)' font-family="'Liberation Sans', Arial, Helvetica, sans-serif" font-weight='normal' font-size='100' stroke='#000' stroke-width='1.4' stroke-linejoin='round'>LPA</text>
<text transform='translate(967.57 4469.02) scale(0.4772 0.4831)' font-family="'Liberation Sans', Arial, Helvetica, sans-serif" font-weight='normal' font-size='100' stroke='#000' stroke-width='1.4' stroke-linejoin='round'>5HT</text>
<text transform='translate(1270 4468.82) scale(0.4979 0.4845)' font-family="'Liberation Sans', Arial, Helvetica, sans-serif" font-weight='normal' font-size='100' stroke='#000' stroke-width='1.4' stroke-linejoin='round'>TNF<tspan font-family="'Liberation Serif', 'Times New Roman', serif">α</tspan></text>
<text transform='translate(1570.49 4470.82) scale(0.4791 0.4789)' font-family="'Liberation Sans', Arial, Helvetica, sans-serif" font-weight='normal' font-size='100' stroke='#000' stroke-width='1.4' stroke-linejoin='round'>IL1<tspan font-family="'Liberation Serif', 'Times New Roman', serif">β</tspan></text>
<text transform='translate(1854.51 4468.82) scale(0.4659 0.4761)' font-family="'Liberation Sans', Arial, Helvetica, sans-serif" font-weight='normal' font-size='100' stroke='#000' stroke-width='1.4' stroke-linejoin='round'>IL6</text>
<text transform='translate(2148.53 4464.93) scale(0.4845 0.4690)' font-family="'Liberation Sans', Arial, Helvetica, sans-serif" font-weight='normal' font-size='100' stroke='#000' stroke-width='1.4' stroke-linejoin='round'>TGF<tspan font-family="'Liberation Serif', 'Times New Roman', serif">β</tspan></text>
<text transform='translate(209.65 4556.43) scale(0.4690 0.4746)' font-family="'Liberation Sans', Arial, Helvetica, sans-serif" font-weight='normal' font-size='100' stroke='#000' stroke-width='1.4' stroke-linejoin='round'>EIPA</text>
<text transform='translate(396.46 4567.22) scale(0.6600 0.9250)' font-family="'Liberation Sans', Arial, Helvetica, sans-serif" font-weight='normal' font-size='100'>-</text>
<text transform='translate(670.1 4560.57) scale(0.6760 0.9250)' font-family="'Liberation Sans', Arial, Helvetica, sans-serif" font-weight='normal' font-size='100'>-</text>
<text transform='translate(962.3 4566.32) scale(0.6760 0.9250)' font-family="'Liberation Sans', Arial, Helvetica, sans-serif" font-weight='normal' font-size='100'>-</text>
<text transform='translate(1242.3 4560.57) scale(0.6760 0.9250)' font-family="'Liberation Sans', Arial, Helvetica, sans-serif" font-weight='normal' font-size='100'>-</text>
<text transform='translate(1526.96 4560.57) scale(0.6600 0.9250)' font-family="'Liberation Sans', Arial, Helvetica, sans-serif" font-weight='normal' font-size='100'>-</text>
<text transform='translate(1855.5 4560.57) scale(0.6760 0.9250)' font-family="'Liberation Sans', Arial, Helvetica, sans-serif" font-weight='normal' font-size='100'>-</text>
<text transform='translate(2118 4560.57) scale(0.6760 0.9250)' font-family="'Liberation Sans', Arial, Helvetica, sans-serif" font-weight='normal' font-size='100'>-</text>
<text transform='translate(505.14 4565.94) scale(0.6400 0.6549)' font-family="'Liberation Sans', Arial, Helvetica, sans-serif" font-weight='normal' font-size='100' stroke='#000' stroke-width='1.6' stroke-linejoin='round'>+</text>
<text transform='translate(779.88 4559.83) scale(0.6540 0.6412)' font-family="'Liberation Sans', Arial, Helvetica, sans-serif" font-weight='normal' font-size='100' stroke='#000' stroke-width='1.6' stroke-linejoin='round'>+</text>
<text transform='translate(1070.71 4565.13) scale(0.6480 0.6412)' font-family="'Liberation Sans', Arial, Helvetica, sans-serif" font-weight='normal' font-size='100' stroke='#000' stroke-width='1.6' stroke-linejoin='round'>+</text>
<text transform='translate(1352.08 4559.83) scale(0.6540 0.6412)' font-family="'Liberation Sans', Arial, Helvetica, sans-serif" font-weight='normal' font-size='100' stroke='#000' stroke-width='1.6' stroke-linejoin='round'>+</text>
<text transform='translate(1634.83 4559.83) scale(0.6680 0.6412)' font-family="'Liberation Sans', Arial, Helvetica, sans-serif" font-weight='normal' font-size='100' stroke='#000' stroke-width='1.6' stroke-linejoin='round'>+</text>
<text transform='translate(1963.83 4559.83) scale(0.6680 0.6412)' font-family="'Liberation Sans', Arial, Helvetica, sans-serif" font-weight='normal' font-size='100' stroke='#000' stroke-width='1.6' stroke-linejoin='round'>+</text>
<text transform='translate(2226.38 4559.83) scale(0.6540 0.6412)' font-family="'Liberation Sans', Arial, Helvetica, sans-serif" font-weight='normal' font-size='100' stroke='#000' stroke-width='1.6' stroke-linejoin='round'>+</text>
<text transform='translate(75.6 4085.22) rotate(-90) scale(0.6301 0.5306)' font-family="'Liberation Sans', Arial, Helvetica, sans-serif" font-weight='bold' font-size='100' stroke='#000' stroke-width='5' stroke-linejoin='round'>IL8 Fold Change (Control)</text>
<text transform='translate(1125.05 4685.12) scale(0.6385 0.7467)' font-family="'Liberation Serif', 'Times New Roman', serif" font-weight='normal' font-size='100'>(</text>
<text transform='translate(1148.15 4685.5) scale(0.7900 0.7985)' font-family="'Liberation Serif', 'Times New Roman', serif" font-weight='bold' font-size='100'>C</text>
<text transform='translate(1203.88 4685.12) scale(0.6385 0.7467)' font-family="'Liberation Serif', 'Times New Roman', serif" font-weight='normal' font-size='100'>)</text></g>
</svg></body></html>
